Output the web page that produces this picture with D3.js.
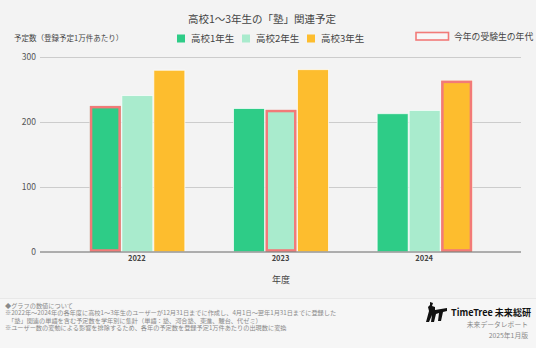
<!DOCTYPE html>
<html><head><meta charset="utf-8">
<script src="https://cdn.jsdelivr.net/npm/d3@7"></script>
<style>
html,body{margin:0;padding:0;background:#f3f3f3;}
svg{display:block;font-family:"Noto Sans CJK JP","Noto Sans",sans-serif;}
</style></head><body>
<svg id="c" width="536" height="348"></svg>
<script>
const years = ["2022", "2023", "2024"];
const seriesNames = ["高校1年生", "高校2年生", "高校3年生"];
const grade1 = [225, 221, 213];
const grade2 = [241, 219, 218];
const grade3 = [280, 281, 264];
const highlightSeries = [0, 1, 2]; // index of series highlighted per year
const yTicks = [0, 100, 200, 300];
const colors = ["#2ecc87", "#a9ebcd", "#fdbd2e"];
const hlColor = "#f27a78";
const footerLines = [
  "◆グラフの数値について",
  "※2022年〜2024年の各年度に高校1〜3年生のユーザーが12月31日までに作成し、4月1日〜翌年1月31日までに登録した",
  "　「塾」関連の単語を含む予定数を学年別に集計（単語：塾、河合塾、東進、駿台、代ゼミ）",
  "※ユーザー数の変動による影響を排除するため、各年の予定数を登録予定1万件あたりの出現数に変換"
];

const svg = d3.select("#c");
const values = [grade1, grade2, grade3];

// footer background
svg.append("rect").attr("x",0).attr("y",298).attr("width",536).attr("height",50).attr("fill","#f6f6f6");
svg.append("line").attr("x1",0).attr("x2",536).attr("y1",298.5).attr("y2",298.5).attr("stroke","#e8e8e8");

const plotL = 40, plotR = 521;
const x0 = d3.scaleBand().domain(years).range([65, 496]);
const x1 = d3.scaleBand().domain(d3.range(3)).range([0, 95]).paddingInner(0.03);
const y = d3.scaleLinear().domain([0, 300]).range([251.7, 57.3]);

// grid
const g = svg.append("g");
g.selectAll("line.grid").data(yTicks.filter(d=>d>0)).join("line")
  .attr("x1", plotL).attr("x2", plotR)
  .attr("y1", d=>Math.round(y(d))+0.5).attr("y2", d=>Math.round(y(d))+0.5)
  .attr("stroke", "#cccccc").attr("stroke-width", 1);

// y tick labels
g.selectAll("text.yt").data(yTicks).join("text")
  .attr("x", 36).attr("y", d=>y(d)).attr("dy","0.35em")
  .attr("text-anchor","end").attr("font-size", 8.5).attr("fill","#555")
  .text(d=>d);

// bars
const groups = svg.append("g").selectAll("g").data(years).join("g")
  .attr("transform", d => `translate(${x0(d) + x0.bandwidth()/2 - 47},0)`);
groups.selectAll("rect").data((d,i)=> values.map((s,k)=>({k, v:s[i], hl: highlightSeries[i]===k})))
  .join("rect")
  .attr("x", d=>x1(d.k)).attr("width", x1.bandwidth())
  .attr("y", d=>y(d.v)).attr("height", d=>y(0)-y(d.v))
  .attr("fill", d=>colors[d.k])
  .attr("stroke", "#ffffff").attr("stroke-opacity",0.7).attr("stroke-width", 1);
groups.selectAll("rect.hl").data((d,i)=> values.map((s,k)=>({k, v:s[i], hl: highlightSeries[i]===k})).filter(d=>d.hl))
  .join("rect").attr("class","hl")
  .attr("x", d=>x1(d.k)+1.25).attr("width", x1.bandwidth()-2.5)
  .attr("y", d=>y(d.v)+1.25).attr("height", d=>y(0)-y(d.v)-2.5)
  .attr("fill", "none").attr("stroke", hlColor).attr("stroke-width", 2.5);

// baseline
svg.append("line").attr("x1", plotL).attr("x2", plotR)
  .attr("y1", y(0)+0.3).attr("y2", y(0)+0.3).attr("stroke","#666").attr("stroke-width",1);

// x labels
svg.append("g").selectAll("text").data(years).join("text")
  .attr("x", d=>x0(d)+x0.bandwidth()/2).attr("y", 261)
  .attr("text-anchor","middle").attr("font-size", 7.5).attr("font-weight","bold").attr("fill","#444")
  .text(d=>d);

svg.append("text").attr("x", 281).attr("y", 283).attr("text-anchor","middle")
  .attr("font-size", 9).attr("fill","#444").text("年度");

// title
svg.append("text").attr("x", 262).attr("y", 23).attr("text-anchor","middle")
  .attr("font-size", 10.5).attr("fill","#444").text("高校1〜3年生の「塾」関連予定");

svg.append("text").attr("x", 14).attr("y", 41).attr("font-size", 7.5).attr("fill","#444")
  .text("予定数（登録予定1万件あたり）");

// legend
const legX = [177, 242, 307];
const leg = svg.append("g").selectAll("g").data(seriesNames).join("g")
  .attr("transform", (d,i)=>`translate(${legX[i]},34.5)`);
leg.append("rect").attr("width",8).attr("height",8).attr("fill",(d,i)=>colors[i]);
leg.append("text").attr("x",14).attr("y",7.5).attr("font-size",9.5).attr("fill","#444").text(d=>d);

svg.append("rect").attr("x",416).attr("y",32.5).attr("width",32.5).attr("height",7.5)
  .attr("fill","#f7f7f7").attr("stroke",hlColor).attr("stroke-width",1.6);
svg.append("text").attr("x",454).attr("y",39.5).attr("font-size",8.8).attr("fill","#444").text("今年の受験生の年代");

// footer text
svg.append("g").selectAll("text").data(footerLines).join("text")
  .attr("x", 5).attr("y",(d,i)=>307.5 + i*7.6).attr("font-size",6.2).attr("fill","#8a8a8a")
  .text(d=>d);

// logo
const logo = svg.append("g").attr("transform","translate(426,302)");
logo.append("path").attr("d","M4,0 L7,1 L6,4 L9,5 L9,8 L21,6 L21,9 L17,10 L15,19 L12,19 L13,11 L10,12 L8,20 L5,20 L6,13 L3,20 L0,20 L3,9 L2,5 L4,3 Z")
  .attr("fill","#111");
svg.append("text").attr("x",451).attr("y",315.5).attr("font-size",9).attr("font-weight","bold")
  .attr("fill","#111").attr("textLength",80).attr("lengthAdjust","spacingAndGlyphs").text("TimeTree 未来総研");
svg.append("text").attr("x",528).attr("y",327).attr("text-anchor","end").attr("font-size",6.8).attr("fill","#888").text("未来データレポート");
svg.append("text").attr("x",528).attr("y",338).attr("text-anchor","end").attr("font-size",6.8).attr("fill","#888").text("2025年1月版");
</script>
</body></html>
